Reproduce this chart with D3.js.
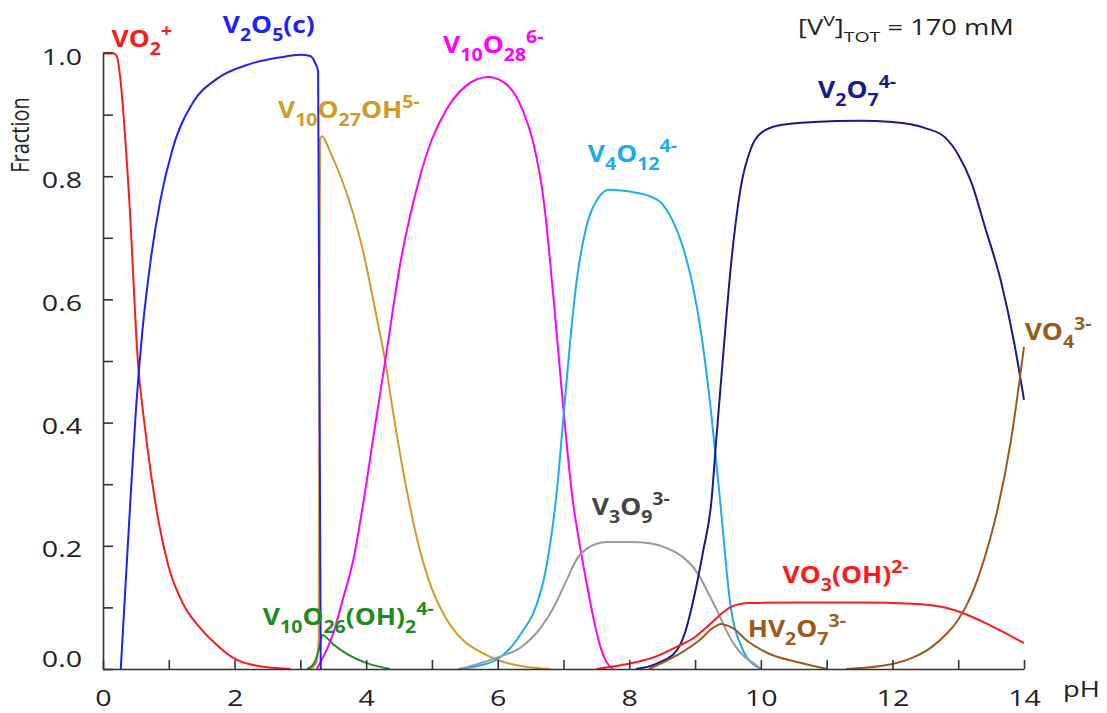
<!DOCTYPE html>
<html>
<head>
<meta charset="utf-8">
<script src="https://cdn.jsdelivr.net/npm/d3@7"></script>
<style>
  body { margin: 0; background: #fff; }
  svg { font-family: "Open Sans", "DejaVu Sans", sans-serif; }
</style>
</head>
<body>
<svg id="chart" width="1107" height="713"></svg>
<script>
// species fractions vs pH as [pH, fraction]
const vo2 = [[0,1],[0.15,1],[0.21,0.995],[0.25,0.97],[0.4,0.76],[0.53,0.5],[0.64,0.39],[0.79,0.274],[1.0,0.165],[1.22,0.105],[1.45,0.07],[1.67,0.045],[1.98,0.018],[2.3,0.006],[2.85,0]];
const v2o5 = [[0.27,0],[0.35,0.15],[0.42,0.28],[0.5,0.42],[0.6,0.55],[0.72,0.66],[0.87,0.76],[1.06,0.845],[1.37,0.92],[1.73,0.958],[2.23,0.982],[2.7,0.993],[3.0,0.997],[3.15,0.995],[3.22,0.985],[3.27,0.97],[3.31,0]];
const v10o27oh = [[3.15,0],[3.24,0.01],[3.28,0.05],[3.3,0.86],[3.33,0.865],[3.45,0.84],[3.65,0.789],[3.95,0.68],[4.16,0.571],[4.29,0.5],[4.42,0.41],[4.6,0.3],[4.8,0.2],[5.0,0.13],[5.2,0.085],[5.47,0.047],[5.75,0.027],[5.99,0.015],[6.4,0.004],[6.8,0]];
const v10o26oh2 = [[3.1,0],[3.2,0.008],[3.3,0.04],[3.33,0.055],[3.5,0.04],[3.7,0.025],[4.0,0.01],[4.36,0]];
const v10o28 = [[3.25,0],[3.35,0.02],[3.5,0.058],[3.65,0.115],[3.8,0.175],[3.95,0.265],[4.1,0.37],[4.29,0.5],[4.51,0.653],[4.82,0.8],[5.0,0.86],[5.23,0.91],[5.5,0.945],[5.85,0.961],[6.1,0.952],[6.38,0.907],[6.55,0.85],[6.7,0.76],[6.85,0.6],[7.0,0.42],[7.14,0.274],[7.25,0.2],[7.35,0.14],[7.45,0.085],[7.55,0.04],[7.65,0.012],[7.75,0]];
const v4o12 = [[5.4,0],[5.7,0.005],[5.98,0.015],[6.2,0.035],[6.4,0.065],[6.54,0.09],[6.74,0.166],[6.9,0.29],[7.0,0.41],[7.1,0.53],[7.2,0.63],[7.33,0.71],[7.45,0.75],[7.7,0.778],[8.0,0.775],[8.3,0.768],[8.5,0.755],[8.65,0.73],[8.8,0.69],[8.95,0.63],[9.1,0.54],[9.25,0.41],[9.38,0.274],[9.53,0.11],[9.73,0.03],[9.88,0.008],[10.0,0]];
const v3o9 = [[5.43,0],[6.03,0.02],[6.35,0.035],[6.64,0.065],[6.85,0.1],[7.05,0.145],[7.2,0.178],[7.35,0.195],[7.66,0.206],[8.0,0.206],[8.31,0.204],[8.6,0.195],[8.81,0.182],[8.95,0.168],[9.07,0.15],[9.2,0.123],[9.33,0.096],[9.45,0.068],[9.58,0.042],[9.75,0.02],[9.88,0.01],[10.0,0]];
const v2o7 = [[8.1,0],[8.4,0.008],[8.72,0.03],[8.85,0.06],[8.97,0.11],[9.12,0.19],[9.25,0.274],[9.32,0.37],[9.42,0.5],[9.55,0.66],[9.7,0.785],[9.85,0.845],[10.0,0.87],[10.3,0.883],[10.8,0.888],[11.5,0.89],[12.0,0.888],[12.5,0.878],[12.8,0.863],[13.0,0.835],[13.2,0.79],[13.4,0.72],[13.66,0.625],[13.85,0.53],[14,0.437]];
const vo3oh = [[7.5,0],[8.06,0.01],[8.4,0.02],[8.72,0.036],[9.0,0.052],[9.18,0.068],[9.35,0.085],[9.53,0.1],[9.7,0.106],[9.83,0.107],[10.5,0.108],[11.5,0.108],[12.3,0.106],[12.8,0.1],[13.07,0.091],[13.5,0.07],[14,0.042]];
const hv2o7 = [[8.3,0],[8.72,0.022],[9.07,0.047],[9.25,0.065],[9.4,0.073],[9.5,0.07],[9.58,0.066],[9.8,0.045],[10.1,0.026],[10.6,0.01],[11.0,0]];
const vo4 = [[11.3,0],[12.0,0.008],[12.3,0.018],[12.6,0.036],[12.85,0.06],[13.0,0.08],[13.2,0.12],[13.4,0.18],[13.6,0.26],[13.8,0.37],[14,0.523]];

const xTicks = d3.range(0, 15, 1);
const xTickLabels = [0, 2, 4, 6, 8, 10, 12, 14];
const yTicks = d3.range(0, 11).map(d => d / 10);
const yTickLabels = [0, 0.2, 0.4, 0.6, 0.8, 1.0];

const series = [
  {data: vo2, color: "#ff1a1a"},
  {data: v10o27oh, color: "#d19b26"},
  {data: v10o26oh2, color: "#2a8a2a"},
  {data: v10o28, color: "#ff00ff"},
  {data: v2o5, color: "#1f1fff"},
  {data: v4o12, color: "#1eaaf5"},
  {data: v3o9, color: "#9a9a9a"},
  {data: v2o7, color: "#1a1a8e"},
  {data: hv2o7, color: "#9c5a1c"},
  {data: vo4, color: "#9c5a1c"},
  {data: vo3oh, color: "#ff1a1a"}
];

// label text: _{..} subscript, ^{..} superscript; position is left/baseline in data units
const labels = [
  {s: "VO_{2}^{+}", c: "#ff1a1a", ph: 0.13, f: 1.01},
  {s: "V_{2}O_{5}(c)", c: "#1f1fff", ph: 1.82, f: 1.032},
  {s: "V_{10}O_{27}OH^{5-}", c: "#d19b26", ph: 2.66, f: 0.894},
  {s: "V_{10}O_{28}^{6-}", c: "#ff00ff", ph: 5.17, f: 1.0},
  {s: "V_{4}O_{12}^{4-}", c: "#1eaaf5", ph: 7.37, f: 0.823},
  {s: "V_{2}O_{7}^{4-}", c: "#1a1a8e", ph: 10.87, f: 0.927},
  {s: "VO_{4}^{3-}", c: "#9c5a1c", ph: 14.01, f: 0.534},
  {s: "V_{3}O_{9}^{3-}", c: "#444444", ph: 7.43, f: 0.25},
  {s: "VO_{3}(OH)^{2-}", c: "#ff1a1a", ph: 10.33, f: 0.14},
  {s: "HV_{2}O_{7}^{3-}", c: "#9c5a1c", ph: 9.8, f: 0.052},
  {s: "V_{10}O_{26}(OH)_{2}^{4-}", c: "#1f8a1f", ph: 2.43, f: 0.071}
];

const svg = d3.select("#chart");
const x = d3.scaleLinear().domain([0, 14]).range([103, 1024]);
const y = d3.scaleLinear().domain([0, 1]).range([669, 53]);
const stretch = 1.3; // the original picture is widened

const line = d3.line()
  .x(d => x(d[0]))
  .y(d => y(d[1]))
  .curve(d3.curveMonotoneX);

svg.append("g").selectAll("path")
  .data(series)
  .join("path")
  .attr("d", d => line(d.data))
  .attr("fill", "none")
  .attr("stroke", d => d.color)
  .attr("stroke-width", 2);

// axes
const xAxis = svg.append("g")
  .attr("transform", `translate(0,${y(0)})`)
  .call(d3.axisBottom(x).tickValues(xTicks).tickSize(-9).tickSizeOuter(0).tickPadding(21)
    .tickFormat(d => xTickLabels.includes(d) ? d : ""));
const yAxis = svg.append("g")
  .attr("transform", `translate(${x(0)},0)`)
  .call(d3.axisLeft(y).tickValues(yTicks).tickSize(-10).tickSizeOuter(0).tickPadding(21)
    .tickFormat(d => yTickLabels.some(v => Math.abs(v - d) < 1e-6) ? d3.format(".1f")(d) : ""));

[xAxis, yAxis].forEach(a => {
  a.selectAll("path, line").attr("stroke", "#333").attr("stroke-width", 1.6);
  a.selectAll("text").attr("font-size", 22).attr("fill", "#222")
    .attr("font-family", "'Open Sans', sans-serif");
});
// widen tick labels around their anchor
xAxis.selectAll(".tick text")
  .attr("transform", `scale(${stretch},1)`);
yAxis.selectAll(".tick text")
  .attr("x", -21 / stretch)
  .attr("transform", `scale(${stretch},1)`)
  .attr("dy", d => d === 0 ? "-0.12em" : "0.5em");

svg.append("text")
  .attr("transform", `translate(29,135) scale(${stretch},1) rotate(-90)`)
  .attr("text-anchor", "middle")
  .attr("font-size", 20)
  .attr("fill", "#222")
  .text("Fraction");

svg.append("text")
  .attr("transform", `translate(1063,697) scale(${stretch},1)`)
  .attr("font-size", 21)
  .attr("fill", "#222")
  .text("pH");

function parts(s) {
  const out = [];
  const re = /([_^])\{([^}]*)\}|([^_^]+)/g;
  let m;
  while ((m = re.exec(s))) {
    if (m[1]) out.push({t: m[2], k: m[1] === "_" ? "sub" : "sup"});
    else out.push({t: m[3], k: "n"});
  }
  return out;
}

function richText(g, s, px, py, size, small, weight, color, subDy, supDy, sx) {
  const t = g.append("text")
    .attr("transform", `translate(${px},${py}) scale(${sx},1)`)
    .attr("font-size", size)
    .attr("font-weight", weight)
    .attr("fill", color);
  let cur = 0;
  parts(s).forEach(p => {
    const target = p.k === "sub" ? subDy : p.k === "sup" ? supDy : 0;
    t.append("tspan")
      .attr("dy", target - cur)
      .attr("font-size", p.k === "n" ? size : small)
      .text(p.t);
    cur = target;
  });
  return t;
}

const lg = svg.append("g");
labels.forEach(l => richText(lg, l.s, x(l.ph), y(l.f), 23, 17, "bold", l.c, 8, -10, 1.15));

richText(svg.append("g"), "[V^{V}]_{TOT} = 170 mM", 798, 35, 21, 15, "normal", "#222", 7, -9, stretch);
</script>
</body>
</html>
